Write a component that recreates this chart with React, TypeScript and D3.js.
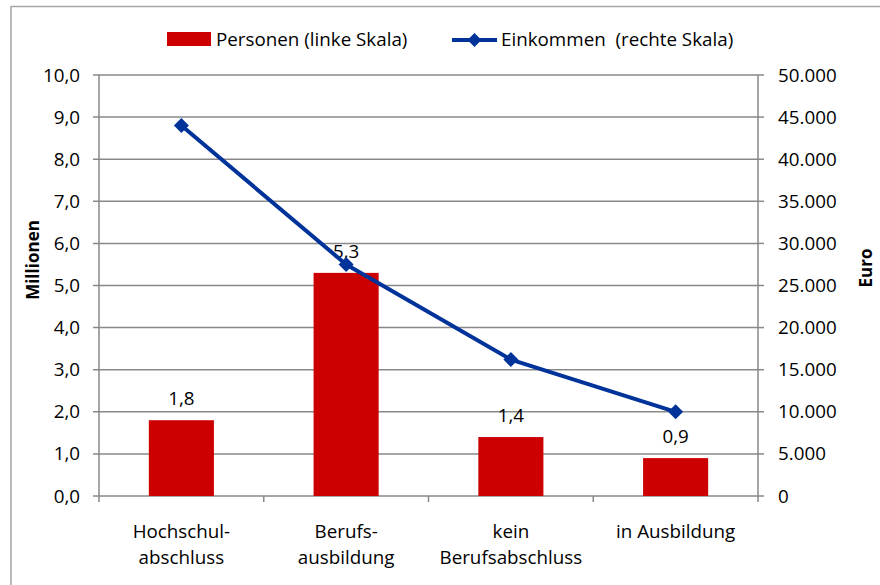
import React from "react";
import * as d3 from "d3";

const categories = [["Hochschul-", "abschluss"], ["Berufs-", "ausbildung"], ["kein", "Berufsabschluss"], ["in Ausbildung"]];
const personen = [1.8, 5.3, 1.4, 0.9];
const personenLabels = ["1,8", "5,3", "1,4", "0,9"];
const einkommen = [44000, 27500, 16200, 10000];
const leftTicks = [0, 1, 2, 3, 4, 5, 6, 7, 8, 9, 10];
const rightTicks = [0, 5000, 10000, 15000, 20000, 25000, 30000, 35000, 40000, 45000, 50000];
const legendBar = "Personen (linke Skala)";
const legendLine = "Einkommen  (rechte Skala)";

const W = 880, H = 585;
const X0 = 99, X1 = 758, Y0 = 75, Y1 = 496;
const FONT = "'Open Sans', sans-serif";
const FS = 18.8;
const GRID = "#898989";
const RED = "#CC0000";
const BLUE = "#003399";

export default function App() {
  const keys = categories.map((c) => c.join(" "));
  const x = d3.scaleBand<string>().domain(keys).range([X0, X1]).paddingInner(0.605).paddingOuter(0.3025);
  const step = x.step();
  const yL = d3.scaleLinear().domain([0, 10]).range([Y1, Y0]);
  const yR = d3.scaleLinear().domain([0, 50000]).range([Y1, Y0]);
  const cx = (i: number) => (x(keys[i]) as number) + x.bandwidth() / 2;
  const line = d3.line<number>().x((_, i) => cx(i)).y((d) => yR(d));
  const fmtL = (v: number) => d3.format(".1f")(v).replace(".", ",");
  const fmtR = (v: number) => d3.format(",")(v).replace(/,/g, ".");
  const diamond = (px: number, py: number, r: number) => `M${px},${py - r}L${px + r},${py}L${px},${py + r}L${px - r},${py}Z`;

  return (
    <svg width={W} height={H} style={{ position: "absolute", left: 0, top: 0, background: "#fff" }} fontFamily={FONT}>
      <rect x={11} y={6.5} width={W} height={H} fill="#fff" stroke="#a6a6a6" strokeWidth={1.5} />
      {leftTicks.map((t) => (
        <line key={"g" + t} x1={X0 - 6} x2={X1} y1={yL(t)} y2={yL(t)} stroke={GRID} strokeWidth={1.5} />
      ))}
      {rightTicks.map((t) => (
        <line key={"r" + t} x1={X1} x2={X1 + 6} y1={yR(t)} y2={yR(t)} stroke={GRID} strokeWidth={1.5} />
      ))}
      <line x1={X0} x2={X0} y1={Y0} y2={Y1} stroke={GRID} strokeWidth={1.5} />
      <line x1={X1} x2={X1} y1={Y0} y2={Y1} stroke={GRID} strokeWidth={1.5} />
      {d3.range(keys.length + 1).map((i) => (
        <line key={"xt" + i} x1={X0 + i * step} x2={X0 + i * step} y1={Y1} y2={Y1 + 6} stroke={GRID} strokeWidth={1.5} />
      ))}
      {leftTicks.map((t) => (
        <text key={"lt" + t} x={80} y={yL(t) + 6.5} textAnchor="end" fontSize={FS} fill="#000">{fmtL(t)}</text>
      ))}
      {rightTicks.map((t) => (
        <text key={"rt" + t} x={778} y={yR(t) + 6.5} textAnchor="start" fontSize={FS} fill="#000">{fmtR(t)}</text>
      ))}
      {personen.map((v, i) => (
        <rect key={"b" + i} x={x(keys[i])} y={yL(v)} width={x.bandwidth()} height={Y1 - yL(v)} fill={RED} />
      ))}
      {personen.map((v, i) => (
        <text key={"bl" + i} x={cx(i)} y={yL(v) - 15} textAnchor="middle" fontSize={FS} fill="#000">{personenLabels[i]}</text>
      ))}
      <path d={line(einkommen) || ""} fill="none" stroke={BLUE} strokeWidth={4} strokeLinejoin="round" />
      {einkommen.map((v, i) => (
        <path key={"m" + i} d={diamond(cx(i), yR(v), 7.5)} fill={BLUE} />
      ))}
      {categories.map((c, i) =>
        c.map((s, j) => (
          <text key={"c" + i + j} x={cx(i)} y={538 + j * 26} textAnchor="middle" fontSize={FS} fill="#000">{s}</text>
        ))
      )}
      <text transform="translate(39,260) rotate(-90)" textAnchor="middle" fontSize={17} fontWeight="bold" fill="#000">Millionen</text>
      <text transform="translate(872,268) rotate(-90)" textAnchor="middle" fontSize={17} fontWeight="bold" fill="#000">Euro</text>
      <rect x={167} y={32} width={44} height={14} fill={RED} />
      <text x={216} y={46} fontSize={FS} fill="#000">{legendBar}</text>
      <line x1={452} x2={497} y1={40} y2={40} stroke={BLUE} strokeWidth={4} />
      <path d={diamond(474.5, 40, 7)} fill={BLUE} />
      <text x={501} y={46} fontSize={FS} fill="#000" style={{ whiteSpace: "pre" }}>{legendLine}</text>
    </svg>
  );
}
